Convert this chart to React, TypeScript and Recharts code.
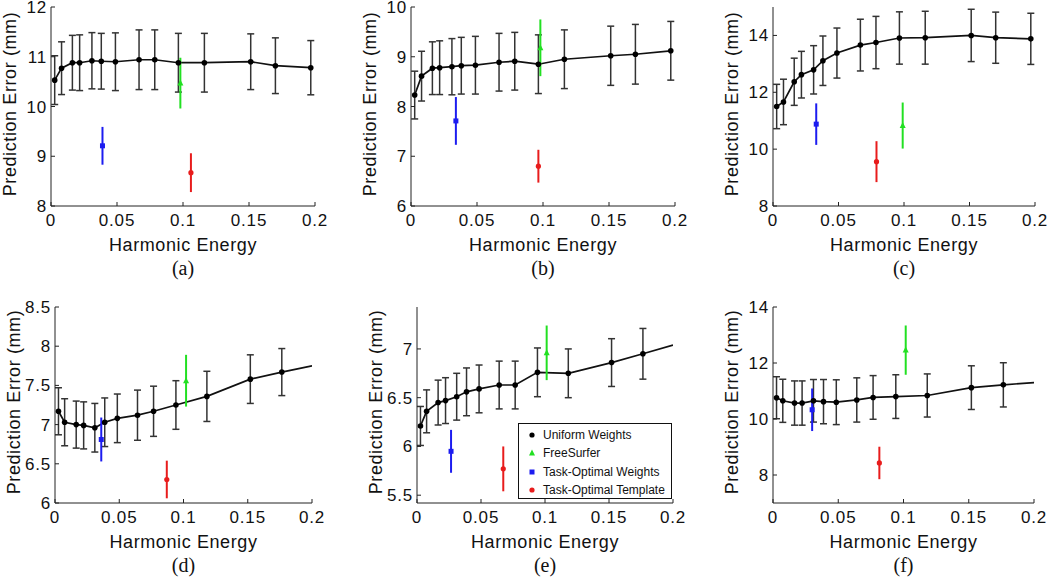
import React from 'react';
import { ComposedChart, Line, Scatter, XAxis, YAxis, ErrorBar } from 'recharts';

// harmonic energy of the uniform-weight runs (shared per row)
const energyTop = [0.0028, 0.008, 0.0162, 0.0217, 0.031, 0.0381, 0.0488, 0.0667, 0.0786, 0.0965, 0.1162, 0.1513, 0.17, 0.1968];
const energyBottom = [0.0027, 0.0075, 0.0165, 0.0223, 0.031, 0.0387, 0.0485, 0.0642, 0.0767, 0.0941, 0.1182, 0.152, 0.1765];
const energyEnd = 0.2;
const xTicks = [0, 0.05, 0.1, 0.15, 0.2];

const uniformA = [10.53, 10.77, 10.88, 10.88, 10.92, 10.91, 10.9, 10.94, 10.94, 10.88, 10.88, 10.9, 10.82, 10.78];
const uniformAErr = [0.49, 0.53, 0.55, 0.56, 0.565, 0.56, 0.58, 0.6, 0.6, 0.59, 0.59, 0.56, 0.56, 0.545];
const uniformB = [8.23, 8.61, 8.77, 8.78, 8.8, 8.82, 8.83, 8.89, 8.91, 8.85, 8.95, 9.02, 9.05, 9.12];
const uniformBErr = [0.48, 0.5, 0.53, 0.54, 0.565, 0.57, 0.58, 0.58, 0.58, 0.59, 0.59, 0.595, 0.6, 0.59];
const uniformC = [11.5, 11.66, 12.37, 12.62, 12.79, 13.11, 13.38, 13.66, 13.75, 13.91, 13.92, 14.0, 13.92, 13.88];
const uniformCErr = [0.78, 0.8, 0.83, 0.82, 0.85, 0.87, 0.88, 0.91, 0.92, 0.92, 0.93, 0.92, 0.9, 0.9];
const uniformD = [7.17, 7.03, 7.0, 6.99, 6.96, 7.03, 7.08, 7.12, 7.17, 7.25, 7.36, 7.58, 7.67];
const uniformDErr = [0.3, 0.3, 0.3, 0.3, 0.31, 0.31, 0.31, 0.32, 0.32, 0.31, 0.32, 0.31, 0.3];
const uniformE = [6.21, 6.36, 6.45, 6.47, 6.51, 6.56, 6.59, 6.63, 6.63, 6.76, 6.75, 6.86, 6.95];
const uniformEErr = [0.2, 0.22, 0.23, 0.235, 0.24, 0.245, 0.245, 0.245, 0.245, 0.25, 0.25, 0.245, 0.26];
const uniformF = [10.76, 10.65, 10.57, 10.57, 10.65, 10.62, 10.6, 10.68, 10.77, 10.8, 10.84, 11.12, 11.22];
const uniformFErr = [0.75, 0.77, 0.79, 0.79, 0.76, 0.79, 0.8, 0.79, 0.78, 0.78, 0.77, 0.78, 0.79];
const uniformTail = [null, null, null, 7.75, 7.04, 11.3];

// one value per panel (a..f)
const freeSurferX = [0.098, 0.098, 0.099, 0.102, 0.1013, 0.1017];
const freeSurferY = [10.47, 9.18, 10.83, 7.56, 6.96, 12.46];
const freeSurferErr = [0.51, 0.57, 0.81, 0.33, 0.28, 0.88];
const taskWeightsX = [0.039, 0.034, 0.033, 0.036, 0.0266, 0.03];
const taskWeightsY = [9.21, 7.71, 10.88, 6.81, 5.95, 10.33];
const taskWeightsErr = [0.38, 0.48, 0.73, 0.28, 0.22, 0.76];
const taskTemplateX = [0.106, 0.0965, 0.079, 0.087, 0.0674, 0.0815];
const taskTemplateY = [8.67, 6.8, 9.56, 6.3, 5.77, 8.43];
const taskTemplateErr = [0.39, 0.33, 0.72, 0.24, 0.23, 0.58];

const panelNames = ['(a)', '(b)', '(c)', '(d)', '(e)', '(f)'];
const legendNames = ['Uniform Weights', 'FreeSurfer', 'Task-Optimal Weights', 'Task-Optimal Template'];

const GREEN = '#22e022';
const BLUE = '#1c1cf0';
const RED = '#e81c1c';
const FONT = '"Liberation Sans", Arial, Helvetica, sans-serif';

const panels = [
  { plot: { x: 51, y: 7, w: 264, h: 199 }, domain: [8, 12], ticks: [8, 9, 10, 11, 12], energy: energyTop, mean: uniformA, err: uniformAErr },
  { plot: { x: 411, y: 7, w: 264, h: 199 }, domain: [6, 10], ticks: [6, 7, 8, 9, 10], energy: energyTop, mean: uniformB, err: uniformBErr },
  { plot: { x: 773, y: 7, w: 262, h: 199 }, domain: [8, 15], ticks: [8, 10, 12, 14], energy: energyTop, mean: uniformC, err: uniformCErr },
  { plot: { x: 55, y: 307, w: 257, h: 196 }, domain: [6, 8.5], ticks: [6, 6.5, 7, 7.5, 8, 8.5], energy: energyBottom, mean: uniformD, err: uniformDErr },
  { plot: { x: 417, y: 307, w: 256, h: 196 }, domain: [5.42, 7.43], ticks: [5.5, 6, 6.5, 7], energy: energyBottom, mean: uniformE, err: uniformEErr },
  { plot: { x: 773, y: 307, w: 261, h: 196 }, domain: [7, 14], ticks: [8, 10, 12, 14], energy: energyBottom, mean: uniformF, err: uniformFErr },
];

const XTick = (props: any) => {
  const { x, y, payload } = props;
  return (
    <g>
      <line x1={x} x2={x} y1={y} y2={y - 4} stroke="#222" />
      <text x={x} y={y + 20} textAnchor="middle" fontSize={17} fill="#111" fontFamily={FONT} letterSpacing={0.8}>
        {payload.value}
      </text>
    </g>
  );
};

const YTick = (props: any) => {
  const { x, y, payload } = props;
  return (
    <g>
      <line x1={x} x2={x + 4} y1={y} y2={y} stroke="#222" />
      <text x={x - 4} y={y + 6} textAnchor="end" fontSize={17} fill="#111" fontFamily={FONT} letterSpacing={0.8}>
        {payload.value}
      </text>
    </g>
  );
};

const circle = (color: string, r: number) => (p: any) => <circle cx={p.cx} cy={p.cy} r={r} fill={color} />;
const square = (color: string) => (p: any) => <rect x={p.cx - 2.5} y={p.cy - 2.5} width={5} height={5} fill={color} />;
const triangle = (color: string) => (p: any) => (
  <polygon points={`${p.cx},${p.cy - 3.5} ${p.cx - 3},${p.cy + 2.5} ${p.cx + 3},${p.cy + 2.5}`} fill={color} />
);

const LEFT = 50;
const TOP = 14;
const RIGHT = 26;
const BOTTOM = 30;

function Panel({ idx }: { idx: number }) {
  const cfg = panels[idx];
  const { x, y, w, h } = cfg.plot;
  const markers = cfg.mean.map((m, i) => ({ x: cfg.energy[i], y: m, e: cfg.err[i] }));
  const tail = uniformTail[idx];
  const line = tail == null ? markers : [...markers, { x: energyEnd, y: tail, e: 0 }];
  const fs = [{ x: freeSurferX[idx], y: freeSurferY[idx], e: freeSurferErr[idx] }];
  const tw = [{ x: taskWeightsX[idx], y: taskWeightsY[idx], e: taskWeightsErr[idx] }];
  const tt = [{ x: taskTemplateX[idx], y: taskTemplateY[idx], e: taskTemplateErr[idx] }];
  const cx = x + w / 2;
  const cy = y + h / 2 - 3;

  return (
    <>
      <div style={{ position: 'absolute', left: x - LEFT, top: y - TOP }}>
        <ComposedChart
          width={w + LEFT + RIGHT}
          height={h + TOP + BOTTOM}
          margin={{ top: TOP, right: RIGHT, bottom: 0, left: 0 }}
          style={{ overflow: 'visible' }}
        >
          <XAxis
            type="number"
            dataKey="x"
            domain={[0, 0.2]}
            ticks={xTicks}
            interval={0}
            allowDataOverflow
            height={BOTTOM}
            tickSize={0}
            tickMargin={0}
            tickLine={false}
            axisLine={{ stroke: '#222' }}
            tick={<XTick />}
          />
          <YAxis
            type="number"
            dataKey="y"
            domain={cfg.domain}
            ticks={cfg.ticks}
            interval={0}
            allowDataOverflow
            width={LEFT}
            tickSize={0}
            tickMargin={0}
            tickLine={false}
            axisLine={{ stroke: '#222' }}
            tick={<YTick />}
          />
          <Line data={line} dataKey="y" type="linear" stroke="#111" strokeWidth={1.7} dot={false} isAnimationActive={false} />
          <Scatter data={markers} dataKey="y" shape={circle('#000', 2.8)} isAnimationActive={false}>
            <ErrorBar dataKey="e" direction="y" width={3.5} stroke="#333" strokeWidth={1.5} />
          </Scatter>
          <Scatter data={tw} dataKey="y" shape={square(BLUE)} isAnimationActive={false}>
            <ErrorBar dataKey="e" direction="y" width={0} stroke={BLUE} strokeWidth={2} />
          </Scatter>
          <Scatter data={tt} dataKey="y" shape={circle(RED, 2.6)} isAnimationActive={false}>
            <ErrorBar dataKey="e" direction="y" width={0} stroke={RED} strokeWidth={2} />
          </Scatter>
          <Scatter data={fs} dataKey="y" shape={triangle(GREEN)} isAnimationActive={false}>
            <ErrorBar dataKey="e" direction="y" width={0} stroke={GREEN} strokeWidth={2} />
          </Scatter>
        </ComposedChart>
      </div>
      <div
        style={{
          position: 'absolute', left: x - 41 - 150, top: cy - 12, width: 300, height: 24, lineHeight: '24px',
          textAlign: 'center', transform: 'rotate(-90deg)', fontFamily: FONT, fontSize: 18, letterSpacing: 0.6, color: '#111',
        }}
      >
        Prediction Error (mm)
      </div>
      <div
        style={{
          position: 'absolute', left: cx - 150, top: y + h + 27, width: 300, height: 24, lineHeight: '24px',
          textAlign: 'center', fontFamily: FONT, fontSize: 18, letterSpacing: 0.6, color: '#111',
        }}
      >
        Harmonic Energy
      </div>
      <div
        style={{
          position: 'absolute', left: cx - 50, top: y + h + 50, width: 100, height: 24, lineHeight: '24px',
          textAlign: 'center', fontFamily: '"Liberation Serif", "Times New Roman", serif', fontSize: 20, color: '#111',
        }}
      >
        {panelNames[idx]}
      </div>
    </>
  );
}

function LegendMarker({ i }: { i: number }) {
  return (
    <svg width={10} height={10} style={{ position: 'absolute', left: 8, top: -5 }}>
      {i === 0 && <circle cx={5} cy={5} r={2.6} fill="#000" />}
      {i === 1 && <polygon points="5,1.5 2,7.5 8,7.5" fill={GREEN} />}
      {i === 2 && <rect x={2.5} y={2.5} width={5} height={5} fill={BLUE} />}
      {i === 3 && <circle cx={5} cy={5} r={2.6} fill={RED} />}
    </svg>
  );
}

export default function App() {
  return (
    <div style={{ position: 'absolute', left: 0, top: 0, width: 1050, height: 585, background: '#fff', overflow: 'hidden' }}>
      {panels.map((_, i) => (
        <Panel key={i} idx={i} />
      ))}
      <div
        style={{
          position: 'absolute', left: 518, top: 423, width: 152, height: 74, border: '1.5px solid #111',
          background: '#fff', fontFamily: FONT, fontSize: 12, color: '#111',
        }}
      >
        {legendNames.map((name, i) => (
          <div key={name} style={{ position: 'absolute', left: 0, top: 11 + i * 18.3, height: 0 }}>
            <LegendMarker i={i} />
            <div style={{ position: 'absolute', left: 24, top: -8, lineHeight: '16px', whiteSpace: 'nowrap' }}>{name}</div>
          </div>
        ))}
      </div>
    </div>
  );
}
